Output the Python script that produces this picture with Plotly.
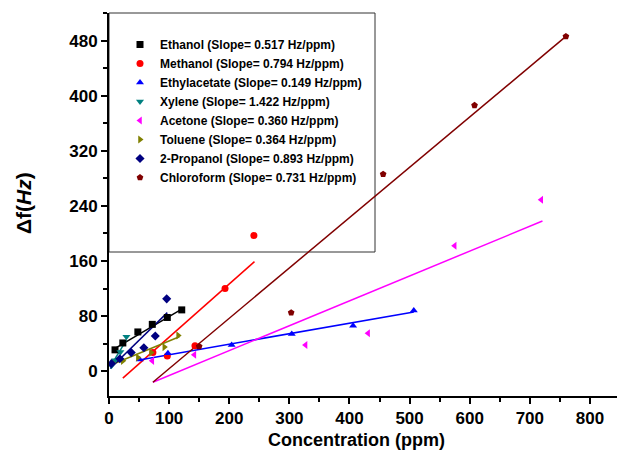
import plotly.graph_objects as go

# ---------------- data ----------------
series_names = ["Ethanol", "Methanol", "Ethylacetate", "Xylene",
                "Acetone", "Toluene", "2-Propanol", "Chloroform"]
series_slopes = ["0.517", "0.794", "0.149", "1.422",
                 "0.360", "0.364", "0.893", "0.731"]

ethanol_x = [10, 23, 48, 72, 97, 121]
ethanol_y = [31, 41, 57, 68, 78, 89]
methanol_x = [73, 97, 143, 193, 241]
methanol_y = [27, 22, 37, 120, 197]
ethylacetate_x = [51, 98, 204, 304, 406, 507]
ethylacetate_y = [17, 26, 38, 54, 66, 88]
xylene_x = [4, 10, 19, 29]
xylene_y = [8, 16, 28, 50]
acetone_x = [72, 142, 327, 431, 575, 719]
acetone_y = [15, 24, 38, 55, 182, 249]
toluene_x = [6, 23, 48, 70, 92, 115]
toluene_y = [12, 15, 20, 27, 35, 52]
propanol_x = [4, 18, 37, 58, 77, 96]
propanol_y = [11, 18, 27, 34, 51, 105]
chloroform_x = [150, 303, 456, 608, 760]
chloroform_y = [36, 85, 286, 386, 486]

# fitted lines (end points)
ethanol_fit_x = [10, 121]
ethanol_fit_y = [33, 90]
methanol_fit_x = [23, 242]
methanol_fit_y = [-10, 159]
ethylacetate_fit_x = [48, 507]
ethylacetate_fit_y = [16, 86]
xylene_fit_x = [3, 29]
xylene_fit_y = [8, 45]
acetone_fit_x = [73, 721]
acetone_fit_y = [-16, 218]
toluene_fit_x = [6, 117]
toluene_fit_y = [10, 50]
propanol_fit_x = [2, 97]
propanol_fit_y = [4, 85]
chloroform_fit_x = [73, 760]
chloroform_fit_y = [-16, 486]

x_ticks = [0, 100, 200, 300, 400, 500, 600, 700, 800]
y_ticks = [0, 80, 160, 240, 320, 400, 480]

# ---------------- styling ----------------
colors = ["#000000", "#ff0000", "#0000ff", "#008080",
          "#ff00ff", "#808000", "#000080", "#800000"]
symbols = ["square", "circle", "triangle-up", "triangle-down",
           "triangle-left", "triangle-right", "diamond", "pentagon"]

points = [(ethanol_x, ethanol_y), (methanol_x, methanol_y),
          (ethylacetate_x, ethylacetate_y), (xylene_x, xylene_y),
          (acetone_x, acetone_y), (toluene_x, toluene_y),
          (propanol_x, propanol_y), (chloroform_x, chloroform_y)]
fits = [(ethanol_fit_x, ethanol_fit_y), (methanol_fit_x, methanol_fit_y),
        (ethylacetate_fit_x, ethylacetate_fit_y), (xylene_fit_x, xylene_fit_y),
        (acetone_fit_x, acetone_fit_y), (toluene_fit_x, toluene_fit_y),
        (propanol_fit_x, propanol_fit_y), (chloroform_fit_x, chloroform_fit_y)]

FONT = "Arial, 'Liberation Sans', sans-serif"

fig = go.Figure()

for (fx, fy), c in zip(fits, colors):
    fig.add_trace(go.Scatter(x=fx, y=fy, mode="lines",
                             line=dict(color=c, width=1.5),
                             showlegend=False, hoverinfo="skip"))

for name, slope, (px, py), c, s in zip(series_names, series_slopes, points, colors, symbols):
    fig.add_trace(go.Scatter(
        x=px, y=py, mode="markers",
        name=f"{name} (Slope= {slope} Hz/ppm)",
        marker=dict(color=c, symbol=s, size=7, line=dict(width=0)),
    ))

W, H = 617, 458
ml, mr, mt, mb = 109, 0, 13, 62
pw = W - ml - mr
ph = H - mt - mb

def px2paper_x(p):
    return (p - ml) / pw

def py2paper_y(p):
    return 1 - (p - mt) / ph

axis_common = dict(
    showline=True, linecolor="black", linewidth=2,
    ticks="outside", ticklen=6, tickwidth=2, tickcolor="black",
    showgrid=False, zeroline=False, mirror=False,
    tickfont=dict(family=FONT, size=17, color="black", weight="bold"),
)

fig.update_layout(
    width=W, height=H,
    margin=dict(l=ml, r=mr, t=mt, b=mb),
    paper_bgcolor="white", plot_bgcolor="white",
    xaxis=dict(range=[0, 845], tickvals=x_ticks,
               minor=dict(dtick=50, ticks="outside", ticklen=4, tickwidth=2, tickcolor="black"),
               **axis_common),
    yaxis=dict(range=[-36, 520], tickvals=y_ticks,
               minor=dict(dtick=40, ticks="outside", ticklen=4, tickwidth=2, tickcolor="black"),
               **axis_common),
    legend=dict(x=px2paper_x(120), y=py2paper_y(30), xanchor="left", yanchor="top",
                bgcolor="rgba(0,0,0,0)", borderwidth=0, tracegroupgap=0,
                font=dict(family=FONT, size=12, color="black", weight="bold")),
    shapes=[dict(type="rect", xref="paper", yref="paper",
                 x0=0, x1=px2paper_x(375), y0=py2paper_y(252), y1=1,
                 line=dict(color="#333333", width=1), layer="below")],
    annotations=[
        dict(text="Concentration (ppm)", xref="paper", yref="paper",
             x=px2paper_x(356), y=py2paper_y(440), xanchor="center", yanchor="middle",
             showarrow=False,
             font=dict(family=FONT, size=18, color="black", weight="bold")),
        dict(text="Δf(<i>Hz</i>)", xref="paper", yref="paper",
             x=px2paper_x(23), y=py2paper_y(203), xanchor="center", yanchor="middle",
             textangle=-90, showarrow=False,
             font=dict(family=FONT, size=21, color="black", weight="bold")),
    ],
)

fig.write_html("out.html")
